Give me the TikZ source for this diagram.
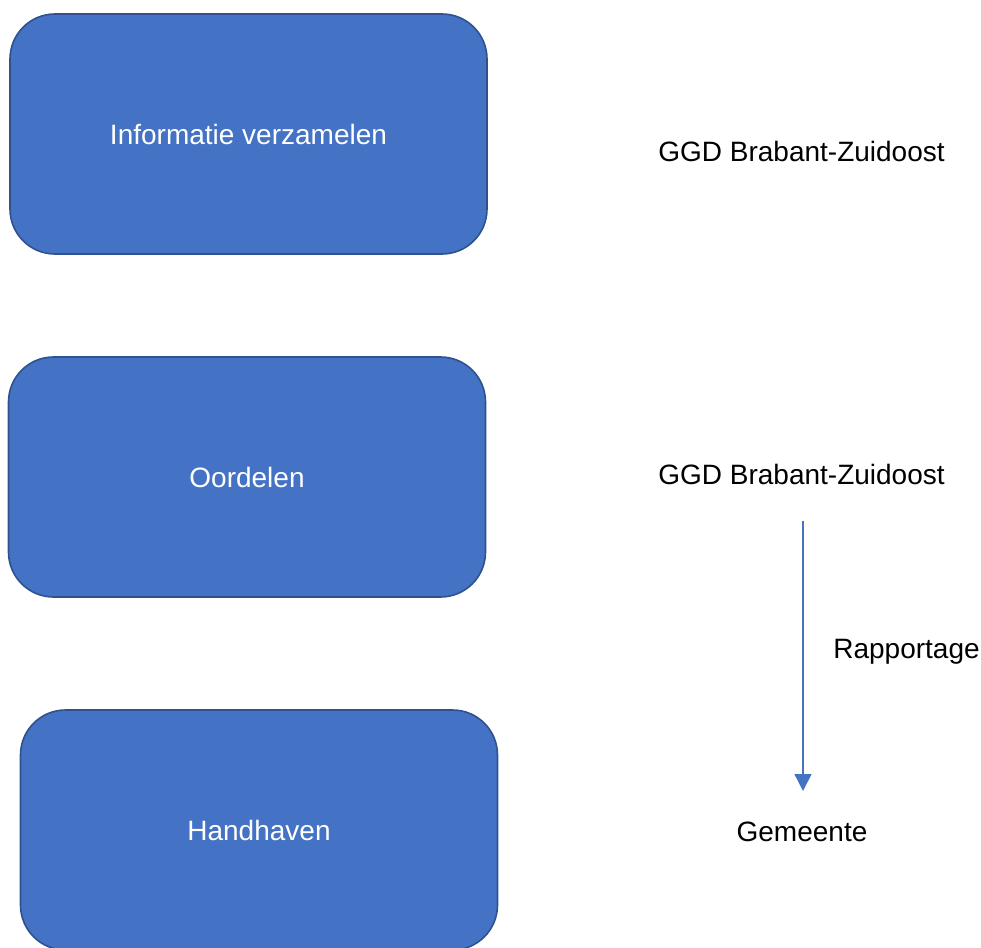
\documentclass[tikz,border=0pt]{standalone}
\usepackage{fontspec}
\setmainfont{Liberation Sans}
\usetikzlibrary{arrows.meta}
\definecolor{boxfill}{HTML}{4472C4}
\definecolor{boxline}{HTML}{2F528F}
\definecolor{arrowblue}{HTML}{4472C4}
\begin{document}
\begin{tikzpicture}[x=1pt,y=-1pt,
  stagebox/.style={draw=boxline, line width=1.6pt, fill=boxfill, rounded corners=45pt,
    minimum width=477pt, minimum height=240pt, text=white, inner sep=0pt,
    font=\fontsize{28}{32}\selectfont},
  plain/.style={text=black, inner sep=0pt, font=\fontsize{28}{32}\selectfont},
  flow/.style={draw=arrowblue, line width=1.4pt, -{Triangle[length=17pt,width=17pt]}}]
\useasboundingbox (0,0) rectangle (981,947);
\clip (0,0) rectangle (981,947);
\node[stagebox] (info) at (248.5,134) {Informatie verzamelen};
\node[stagebox] (oord) at (247,477) {Oordelen};
\node[stagebox] (hand) at (259,830) {Handhaven};
\node[plain] (ggd1) at (801.5,151) {GGD Brabant-Zuidoost};
\node[plain] (ggd2) at (801.5,474) {GGD Brabant-Zuidoost};
\node[plain] (gem) at (802,832) {Gemeente};
\coordinate (a1) at (803,521);
\coordinate (a2) at (803,791);
\draw[flow] (a1) -- (a2);
\node[plain] (rap) at (906.5,652) {Rapportage};
\end{tikzpicture}
\end{document}
